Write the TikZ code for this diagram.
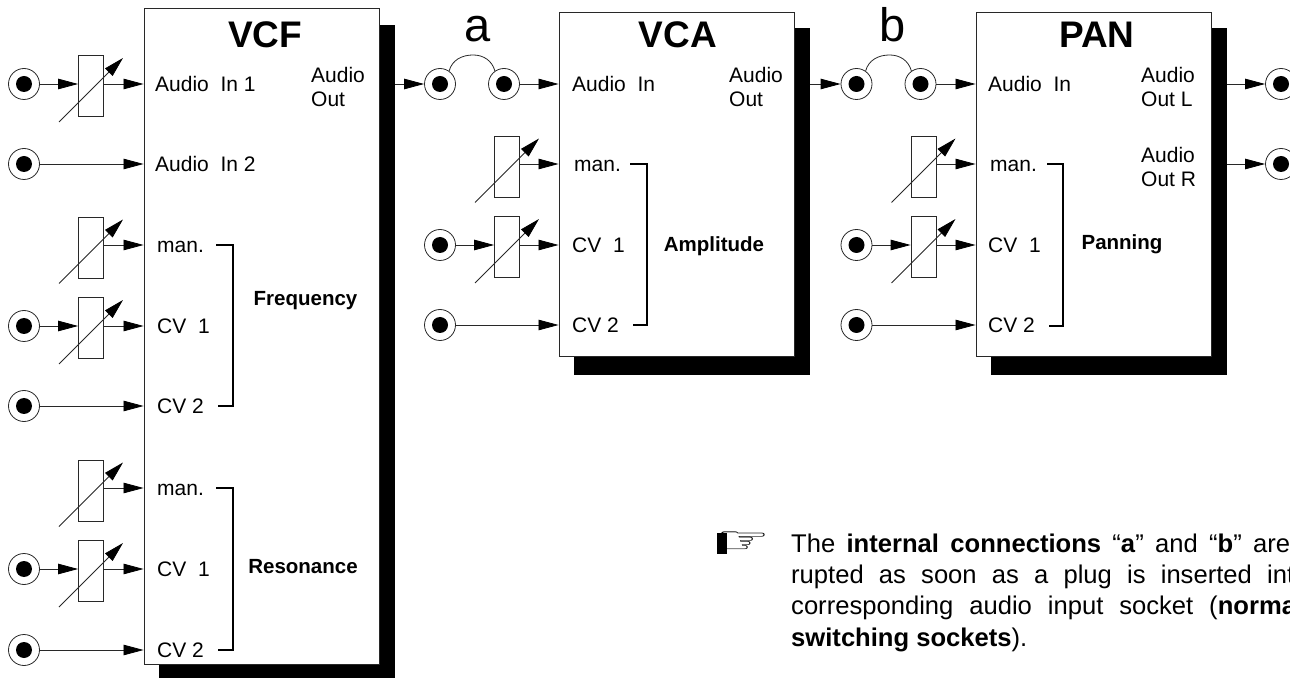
\documentclass[tikz,border=0pt]{standalone}
\usepackage{fontspec}
\setmainfont{Liberation Sans}
\newfontfamily\handfont{DejaVu Sans}
\usepackage{xcolor}
\usepackage{graphicx}
\usetikzlibrary{positioning,arrows.meta,calc}
\definecolor{cLine}{RGB}{40,40,40}
\newcommand{\fsize}[1]{\fontsize{#1}{1.15em}\selectfont}

\begin{document}
\begin{tikzpicture}[
   x=1pt,y=1pt,
   box/.style={draw=cLine,fill=white,line width=.9pt,inner sep=0pt,minimum width=235pt},
   shade/.style={fill=black,inner sep=0pt,minimum width=236pt},
   sock/.style={draw=cLine,fill=white,circle,line width=.8pt,minimum size=31pt,inner sep=0pt,
     path picture={\fill[black] (path picture bounding box.center) circle (8pt);}},
   pot/.style={draw=cLine,fill=white,line width=.8pt,minimum width=25pt,minimum height=61pt,inner sep=0pt},
   wire/.style={draw=cLine,line width=.8pt,-{Triangle[length=20pt,width=10.5pt,color=black,fill=black]}},
   brk/.style={draw=black,line width=2pt},
   lbl/.style={anchor=base west,inner sep=0pt,font=\fsize{21}},
   outl/.style={anchor=west,inner sep=0pt,align=left,font=\fontsize{21}{24}\selectfont},
   grp/.style={inner sep=0pt,font=\fsize{20.5}\bfseries},
   ttl/.style={anchor=base,inner sep=0pt,font=\fsize{37}\bfseries},
   jmp/.style={anchor=base,inner sep=0pt,font=\fsize{47}},
   para/.style={anchor=base west,inner sep=0pt,font=\fsize{25.6}}]
  \clip (0,0) rectangle (1290,678);
  % modules
  \node[shade,minimum height=653pt] (vcfS) at (277,326.5) {};
  \node[box,minimum height=656pt] (vcf) at (261.5,342) {};
  \node[shade,minimum height=347pt] (vcaS) at (692,476.5) {};
  \node[box,minimum height=344pt] (vca) at (676.5,494) {};
  \node[shade,minimum height=347pt] (panS) at (1108.5,476.5) {};
  \node[box,minimum height=344pt] (pan) at (1093.5,494) {};
  \node[ttl] (tF) at (265,630) {VCF};
  \node[ttl] (tA) at (678,630) {VCA};
  \node[ttl] (tP) at (1097,630) {PAN};
  % sockets
  \foreach \n/\x/\y in {s1/24/594,s2/24/514,s3/24/352,s4/24/272,s5/24/109,s6/24/28,
      a1/440/594,a2/504/594,s7/440/433,s8/440/353,
      b1/856.5/594,b2/920.5/594,s9/856.5/433,s10/856.5/353,
      o1/1281/594,o2/1281/514}
    \node[sock] (\n) at (\x,\y) {};
  % rows without a socket
  \coordinate (rF) at (0,433);
  \coordinate (rR) at (0,190);
  \coordinate (rA) at (0,514);
  % pots with dial
  \foreach \n/\x/\y in {p1/91/592,pF/91/430.5,p3/91/350,pR/91/187.5,p5/91/107,
      pA/507/511.5,p7/507/431,pP/923.5/511.5,p9/923.5/431} {
    \node[pot] (\n) at (\x,\y) {};
    \coordinate (\n a) at (\x-32,\y-36);
    \coordinate (\n b) at (\x+32,\y+28);
    \draw[wire] (\n a) -- (\n b);
  }
  % VCF inputs
  \draw[wire] (s1) -- (s1 -| p1.west);
  \draw[wire] (s1 -| p1.east) -- (s1 -| vcf.west);
  \draw[wire] (s2) -- (s2 -| vcf.west);
  \draw[wire] (rF -| pF.east) -- (rF -| vcf.west);
  \draw[wire] (s3) -- (s3 -| p3.west);
  \draw[wire] (s3 -| p3.east) -- (s3 -| vcf.west);
  \draw[wire] (s4) -- (s4 -| vcf.west);
  \draw[wire] (rR -| pR.east) -- (rR -| vcf.west);
  \draw[wire] (s5) -- (s5 -| p5.west);
  \draw[wire] (s5 -| p5.east) -- (s5 -| vcf.west);
  \draw[wire] (s6) -- (s6 -| vcf.west);
  % VCA inputs
  \draw[wire] (a1 -| vcfS.east) -- (a1);
  \draw[wire] (a2) -- (a2 -| vca.west);
  \draw[wire] (rA -| pA.east) -- (rA -| vca.west);
  \draw[wire] (s7) -- (s7 -| p7.west);
  \draw[wire] (s7 -| p7.east) -- (s7 -| vca.west);
  \draw[wire] (s8) -- (s8 -| vca.west);
  % PAN inputs and outputs
  \draw[wire] (b1 -| vcaS.east) -- (b1);
  \draw[wire] (b2) -- (b2 -| pan.west);
  \draw[wire] (rA -| pP.east) -- (rA -| pan.west);
  \draw[wire] (s9) -- (s9 -| p9.west);
  \draw[wire] (s9 -| p9.east) -- (s9 -| pan.west);
  \draw[wire] (s10) -- (s10 -| pan.west);
  \draw[wire] (o1 -| panS.east) -- (o1);
  \draw[wire] (o2 -| panS.east) -- (o2);
  % internal connections
  \draw[draw=cLine,line width=.8pt] (a1.55) to[out=75,in=180] ++(24,16) to[out=0,in=105] (a2.125);
  \draw[draw=cLine,line width=.8pt] (b1.55) to[out=75,in=180] ++(24,16) to[out=0,in=105] (b2.125);
  \node[jmp] (ja) at (478,636) {a};
  \node[jmp] (jb) at (893,636) {b};
  % labels VCF
  \node[lbl] (l1) at (155,586) {Audio\ \ In 1};
  \node[lbl] (l2) at (155,506) {Audio\ \ In 2};
  \node[lbl] (l3) at (157,425.5) {man.};
  \node[lbl] (l4) at (157,344.5) {CV\ \ 1};
  \node[lbl] (l5) at (157,264.5) {CV 2};
  \node[lbl] (l6) at (157,182.5) {man.};
  \node[lbl] (l7) at (157,101.5) {CV\ \ 1};
  \node[lbl] (l8) at (157,20.5) {CV 2};
  \node[outl] (l9) at (311,591) {Audio\\Out};
  % labels VCA
  \node[lbl] (l10) at (572,586) {Audio\ \ In};
  \node[lbl] (l11) at (574,506) {man.};
  \node[lbl] (l12) at (572,425.5) {CV\ \ 1};
  \node[lbl] (l13) at (572,345.5) {CV 2};
  \node[outl] (l14) at (729,591) {Audio\\Out};
  % labels PAN
  \node[lbl] (l15) at (988,586) {Audio\ \ In};
  \node[lbl] (l16) at (990,506) {man.};
  \node[lbl] (l17) at (988,425.5) {CV\ \ 1};
  \node[lbl] (l18) at (988,345.5) {CV 2};
  \node[outl] (l19) at (1141,591) {Audio\\Out L};
  \node[outl] (l20) at (1141,511) {Audio\\Out R};
  % brackets
  \coordinate (fT) at (216,433); \coordinate (fB) at (218,272);
  \coordinate (nT) at (216,190); \coordinate (nB) at (218,28);
  \coordinate (aT) at (630,514); \coordinate (aB) at (633,353);
  \coordinate (cT) at (1047,514); \coordinate (cB) at (1049,352);
  \draw[brk] (fT) -- ++(17,0) |- (fB);
  \draw[brk] (nT) -- ++(17,0) |- (nB);
  \draw[brk] (aT) -- ++(17,0) |- (aB);
  \draw[brk] (cT) -- ++(16,0) |- (cB);
  \node[grp] (gF) at (305.5,377) {Frequency};
  \node[grp] (gR) at (303,111) {Resonance};
  \node[grp] (gA) at (714,432) {Amplitude};
  \node[grp] (gP) at (1122,434) {Panning};
  % note
  \node[inner sep=0pt,font=\handfont\fontsize{40}{40}\selectfont] (hand) at (743,135) {\scalebox{1.5}[.95]{☞}};
  \node[fill=black,minimum width=10pt,minimum height=21pt,inner sep=0pt] (cuff) at (722,135) {};
  \node[para] (n1) at (791,126) {\makebox[499pt][s]{The \textbf{internal connections} “\textbf{a}” and “\textbf{b}” are}};
  \node[para] (n2) at (791,95) {\makebox[503pt][s]{rupted as soon as a plug is inserted int}};
  \node[para] (n3) at (791,64) {\makebox[505pt][s]{corresponding audio input socket (\textbf{norma}}};
  \node[para] (n4) at (791,32) {\textbf{switching sockets}).};
\end{tikzpicture}
\end{document}
